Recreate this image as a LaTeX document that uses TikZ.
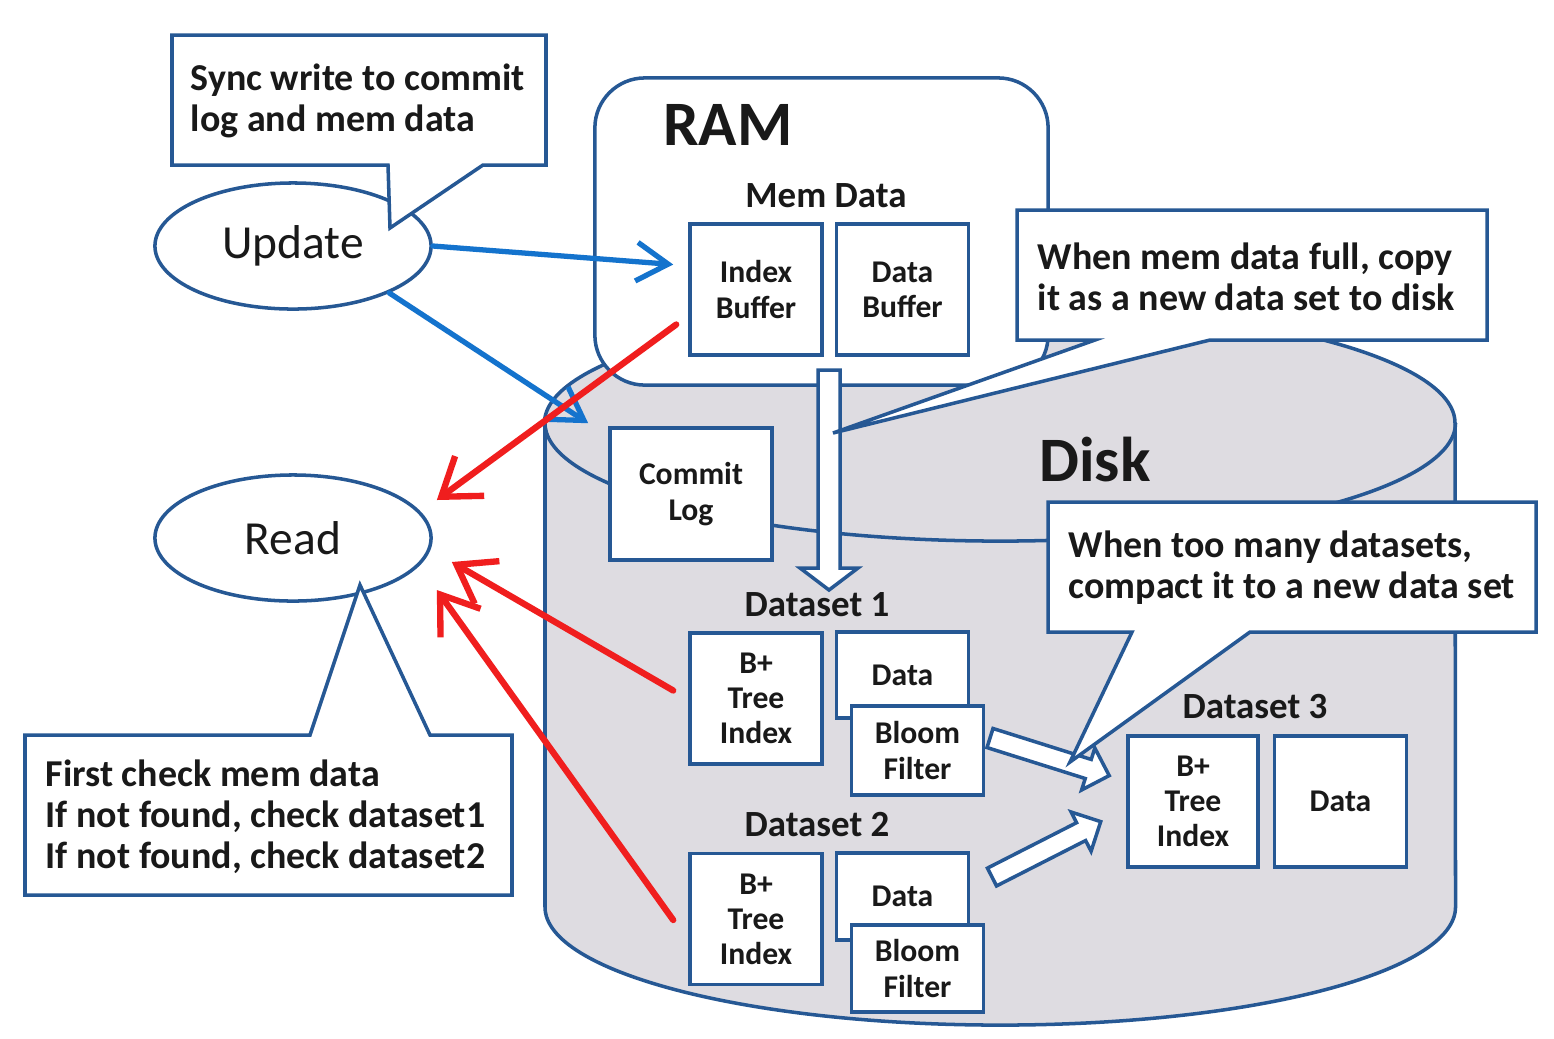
\documentclass[tikz,border=0pt]{standalone}
\usepackage{fontspec}
\setmainfont{Carlito}
\usetikzlibrary{shapes.geometric,arrows.meta}

\definecolor{boxblue}{RGB}{38,88,148}
\definecolor{writeblue}{RGB}{20,115,205}
\definecolor{readred}{RGB}{240,30,30}
\definecolor{diskgray}{RGB}{222,220,225}
\definecolor{inkblack}{RGB}{25,25,25}

\tikzset{
  box/.style={draw=boxblue, line width=1pt, fill=white, text=inkblack, minimum width=1.32cm, minimum height=1.31cm, inner sep=0pt, align=center, font=\fontsize{9}{10}\selectfont\bfseries},
  opnode/.style={ellipse, draw=boxblue, line width=1pt, fill=white, text=inkblack, minimum width=2.76cm, minimum height=1.26cm, inner sep=0pt, font=\fontsize{13.5}{15}\selectfont},
  rambox/.style={draw=boxblue, line width=1pt, fill=white, rounded corners=0.5cm, inner sep=0pt},
  noteline/.style={draw=boxblue, line width=1pt, fill=white, line join=miter},
  notetext/.style={inner sep=0pt, align=left, text=inkblack, font=\fontsize{10.8}{11.7}\selectfont\bfseries},
  biglabel/.style={inner sep=0pt, text=inkblack, font=\fontsize{18}{20}\selectfont\bfseries},
  setlabel/.style={inner sep=0pt, text=inkblack, font=\fontsize{10.5}{12}\selectfont\bfseries},
  diskline/.style={draw=boxblue, line width=1pt, fill=diskgray},
  blockline/.style={draw=boxblue, line width=1pt, fill=white, line join=miter},
  writearrow/.style={draw=writeblue, line width=1.5pt, line cap=round, -{Straight Barb[length=9pt,width=11pt]}},
  readarrow/.style={draw=readred, line width=1.8pt, line cap=round, -{Straight Barb[length=10pt,width=14pt]}}
}

% start, angle, length, shaft half width, head half width
\newcommand{\blkarrow}[5]{%
  \filldraw[blockline, shift={(#1)}, rotate=#2] (0,-#4) -- (#3-22,-#4) -- (#3-22,-#5) -- (#3,0) -- (#3-22,#5) -- (#3-22,#4) -- (0,#4) -- cycle;}

\begin{document}
\begin{tikzpicture}[x=0.01cm, y=-0.01cm]
\useasboundingbox (0,0) rectangle (1554,1038);
\fill[white] (0,0) rectangle (1554,1038);

% disk cylinder
\filldraw[diskline] (545,423) -- (545,907) arc[start angle=180, end angle=360, x radius=4.55cm, y radius=1.18cm] -- (1455,423) arc[start angle=0, end angle=180, x radius=4.55cm, y radius=1.18cm] -- cycle;
\draw[diskline, fill=none] (545,423) arc[start angle=180, end angle=360, x radius=4.55cm, y radius=1.18cm];
\node[biglabel] (disklabel) at (1095,460) {Disk};

% RAM
\node[rambox, minimum width=4.53cm, minimum height=3.07cm] (ram) at (821.5,231.5) {};
\node[biglabel] (ramlabel) at (728,125) {RAM};
\node[setlabel] (memlabel) at (826,196) {Mem Data};
\node[box] (ibuf) at (756,289.5) {Index\\Buffer};
\node[box] (dbuf) at (902.5,289.5) {Data\\Buffer};

% flush to disk
\blkarrow{829,370}{-90}{220}{11}{29}
\filldraw[noteline] (1017,210) -- (1487,210) -- (1487,340) -- (1210,340) -- (833,433) -- (1095,340) -- (1017,340) -- cycle;
\node[notetext, anchor=west] (flushnote) at (1037,277) {When mem data full, copy\\it as a new data set to disk};

\node[box, minimum width=1.62cm, minimum height=1.32cm] (clog) at (691,494) {Commit\\Log};

% datasets
\node[setlabel] (ds1label) at (817,605) {Dataset 1};
\node[box] (bt1) at (756,698.5) {B+\\Tree\\Index};
\node[box, minimum height=0.86cm] (dat1) at (902.5,675) {Data};
\node[box, minimum height=0.89cm] (bf1) at (917.5,750.5) {Bloom\\Filter};

\node[setlabel] (ds2label) at (817,825) {Dataset 2};
\node[box] (bt2) at (756,919) {B+\\Tree\\Index};
\node[box, minimum height=0.87cm] (dat2) at (902.5,896.5) {Data};
\node[box, minimum height=0.87cm] (bf2) at (917.5,968.5) {Bloom\\Filter};

\node[setlabel] (ds3label) at (1255,707) {Dataset 3};
\node[box, minimum width=1.30cm] (bt3) at (1193,801.5) {B+\\Tree\\Index};
\node[box] (dat3) at (1340.5,801.5) {Data};

% compaction
\blkarrow{990,738}{-17.5}{125}{10}{22}
\blkarrow{992,877}{27}{122}{10}{22}
\filldraw[noteline] (1048,502) -- (1536,502) -- (1536,632) -- (1250,632) -- (1070,762) -- (1132,632) -- (1048,632) -- cycle;
\node[notetext, anchor=west] (compactnote) at (1068,568) {When too many datasets,\\compact it to a new data set};

% update and read
\node[opnode] (upd) at (293,246) {Update};
\filldraw[noteline] (172,35) -- (546,35) -- (546,165) -- (483,165) -- (390,228) -- (388,165) -- (172,165) -- cycle;
\node[notetext, anchor=west] (syncnote) at (190,101) {Sync write to commit\\log and mem data};

\node[opnode] (read) at (293,538) {Read};
\filldraw[noteline] (25,735) -- (310,735) -- (360,585) -- (430,735) -- (512,735) -- (512,895) -- (25,895) -- cycle;
\node[notetext, anchor=west] (readnote) at (45,817) {First check mem data\\If not found, check dataset1\\If not found, check dataset2};

\draw[writearrow] (upd.east) -- ([shift={(-15,-25)}]ibuf.west);
\draw[writearrow] (upd.-26) -- ([shift={(-20,-3)}]clog.north west);

\draw[readarrow] ([shift={(-12,35)}]ibuf.west) -- ([shift={(4,-38)}]read.east);
\draw[readarrow] ([shift={(-15,-8)}]bt1.west) -- ([shift={(19,24)}]read.east);
\draw[readarrow] ([shift={(-15,1)}]bt2.west) -- ([shift={(4,52)}]read.east);
\end{tikzpicture}
\end{document}
